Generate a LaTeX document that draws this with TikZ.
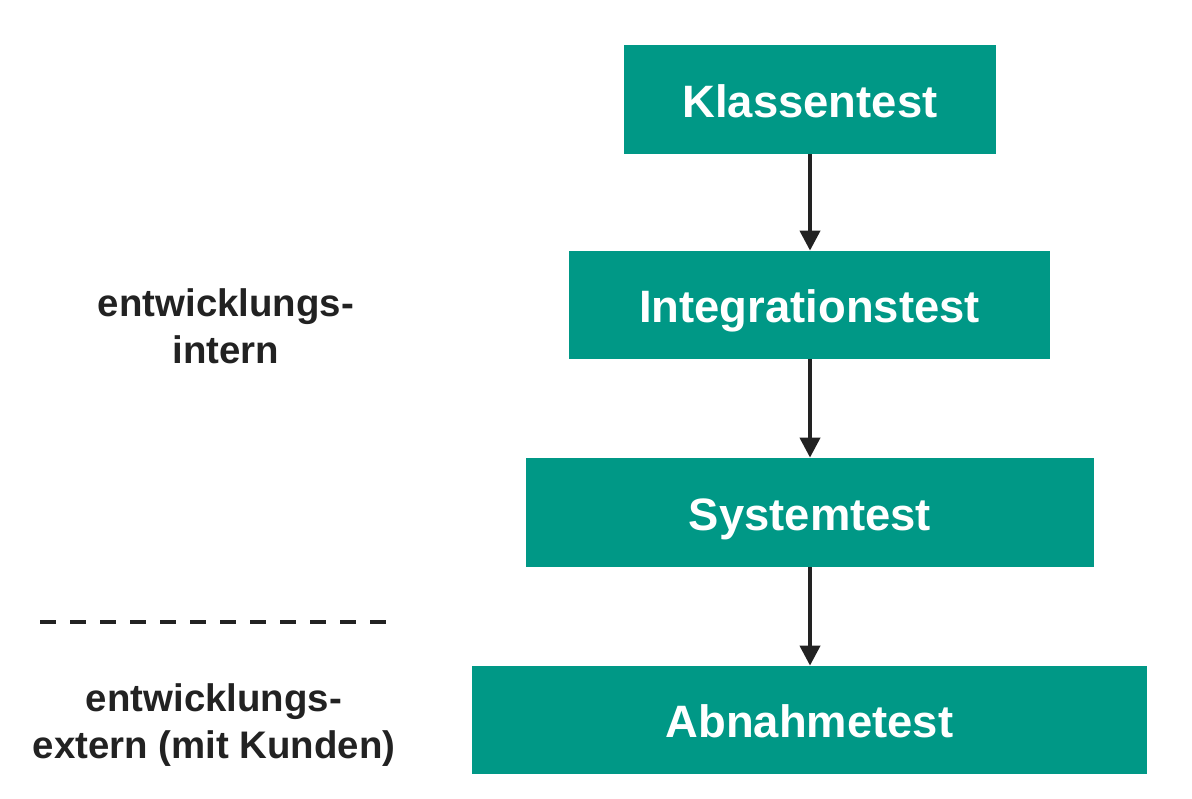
\documentclass[tikz,border=0pt]{standalone}
\usepackage{fontspec}
\setmainfont{Liberation Sans}
\usetikzlibrary{arrows.meta}
\definecolor{teal1}{HTML}{009886}
\definecolor{ink}{HTML}{222222}
\begin{document}
\begin{tikzpicture}[x=0.5pt,y=-0.5pt,
  testbox/.style={fill=teal1, draw=none, inner sep=0pt, text=white, text height=17.5pt, text depth=0pt, font=\fontsize{22.7}{26}\selectfont\bfseries},
  flow/.style={draw=ink, line width=2pt, -{Triangle[length=10pt,width=10pt]}},
  sidelabel/.style={align=center, text=ink, font=\fontsize{19.2}{23.5}\selectfont\bfseries}]
\useasboundingbox (0,0) rectangle (1192,798);
\node[testbox, minimum width=186pt, minimum height=54.5pt] (k) at (810,99.5) {Klassentest};
\node[testbox, minimum width=240.5pt, minimum height=54pt] (i) at (809.5,305) {Integrationstest};
\node[testbox, minimum width=284pt, minimum height=54.5pt] (s) at (810,512.5) {Systemtest};
\node[testbox, minimum width=337.5pt, minimum height=54pt] (a) at (809.5,720) {Abnahmetest};
\draw[flow] (k.south -| 810,0) -- (i.north -| 810,0);
\draw[flow] (i.south -| 810,0) -- (s.north -| 810,0);
\draw[flow] (s.south -| 810,0) -- (a.north -| 810,0);
\coordinate (d1) at (40,622);
\coordinate (d2) at (388,622);
\draw[ink, line width=2pt, dash pattern=on 8pt off 7pt] (d1) -- (d2);
\node[sidelabel] (l1) at (226,326) {entwicklungs-\\intern};
\node[sidelabel] (l2) at (214,725) {entwicklungs-\\extern (mit Kunden)};
\end{tikzpicture}
\end{document}
